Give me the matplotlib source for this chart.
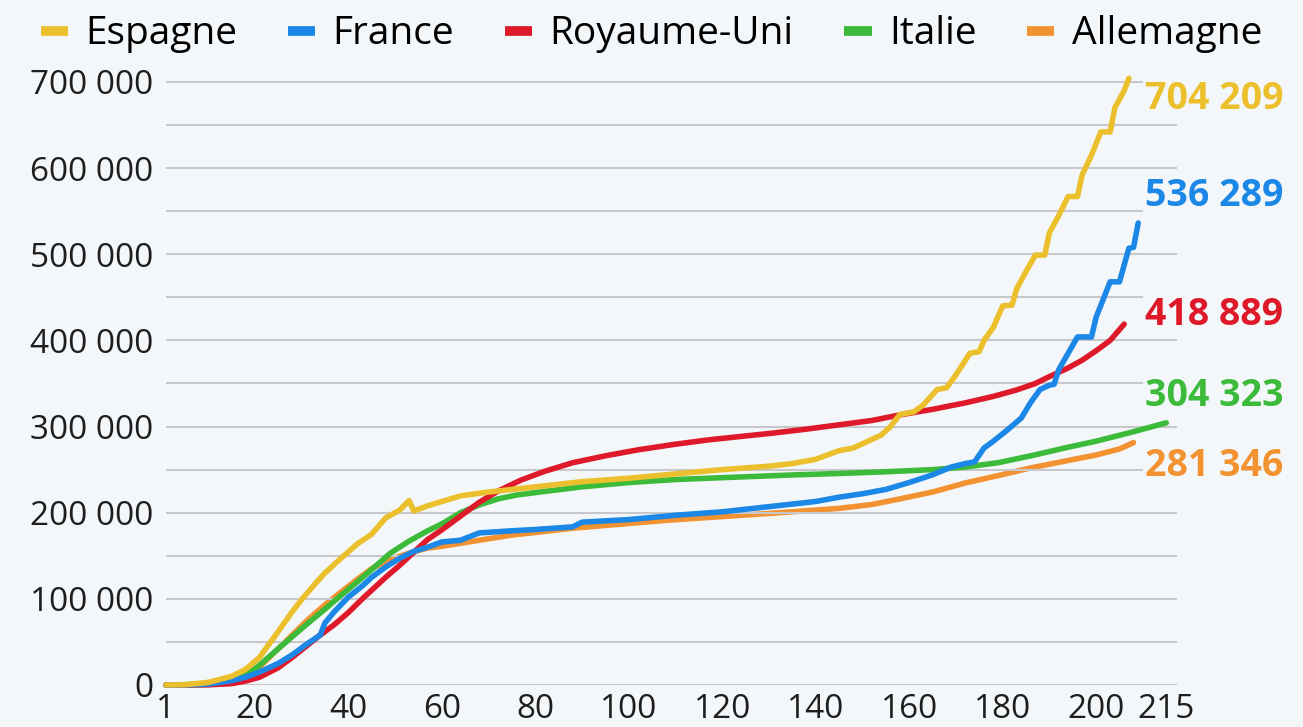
import matplotlib.pyplot as plt
from matplotlib.lines import Line2D

# cumulative cases by day since the first case
spain_days = [1, 5, 10, 15, 18, 21, 25, 28, 30, 33, 35, 38, 42, 45, 48, 51, 53, 54, 57, 60, 64, 70, 75, 80,
              90, 100, 110, 120, 130, 135, 140, 145, 148, 150, 154, 156, 158, 161, 163, 166, 168, 170, 173,
              175, 176, 178, 180, 182, 183, 185, 187, 189, 190, 192, 194, 196, 197, 199, 201, 203, 204, 206, 207]
spain_vals = [0, 300, 3000, 10000, 18000, 32000, 62000, 85000, 99000, 118000, 130000, 145000, 164000,
              175000, 194000, 203000, 214000, 202000, 208000, 213000, 219500, 224000, 227000, 230000,
              236000, 240000, 245000, 250000, 254000, 257000, 262000, 272000, 275000, 280000, 290000,
              300000, 314000, 317000, 325000, 343000, 345000, 360000, 385000, 387000, 400000, 415000,
              440000, 441000, 460000, 480000, 499000, 499000, 525000, 545000, 567000, 567000, 592000,
              615000, 642000, 642000, 670000, 690000, 704209]

france_days = [1, 5, 10, 15, 18, 21, 25, 28, 31, 34, 35, 37, 40, 43, 45, 48, 51, 54, 57, 60, 64, 68, 75, 80,
               88, 90, 100, 110, 120, 130, 140, 145, 150, 155, 160, 165, 169, 172, 174, 176, 178, 181, 184,
               186, 188, 190, 191, 192, 194, 196, 199, 200, 203, 205, 207, 208, 209]
france_vals = [0, 100, 1000, 5000, 9000, 15000, 25000, 35000, 47000, 58000, 72000, 85000, 102000, 115000,
               125000, 137000, 147000, 155000, 160000, 166000, 168000, 176500, 179000, 180500, 183500,
               189000, 192000, 197000, 201000, 207000, 213000, 218000, 222000, 227000, 235000, 244000,
               253000, 257000, 259000, 275000, 283000, 296000, 310000, 328000, 343000, 348000, 349000,
               366000, 385000, 404000, 404000, 427000, 468000, 468000, 507000, 508000, 536289]

uk_days = [1, 10, 15, 18, 21, 25, 28, 31, 34, 37, 40, 43, 45, 48, 51, 54, 57, 60, 64, 68, 72, 77, 82, 88,
           95, 102, 110, 117, 124, 131, 138, 145, 152, 158, 165, 172, 178, 183, 187, 190, 194, 197, 200,
           203, 206]
uk_vals = [0, 200, 1500, 4500, 9000, 20000, 32000, 45000, 58000, 70000, 84000, 100000, 110000, 125000,
           139000, 154000, 169000, 180000, 196000, 212000, 225000, 238000, 248000, 258000, 266000, 273000,
           279500, 284500, 288500, 292500, 297000, 302000, 307000, 313500, 320000, 327500, 335000, 342500,
           350000, 358000, 368000, 377000, 388000, 400000, 418889]

italy_days = [1, 10, 15, 18, 21, 25, 28, 31, 35, 38, 42, 45, 49, 53, 57, 60, 64, 68, 72, 76, 81, 90, 100,
              110, 124, 136, 145, 155, 165, 172, 179, 186, 194, 200, 208, 215]
italy_vals = [0, 800, 4500, 11000, 23000, 42000, 56000, 70000, 88000, 102000, 120000, 134000, 153000,
              167000, 179000, 187000, 200000, 209000, 216000, 220500, 224000, 230000, 235000, 238500,
              241500, 244000, 245500, 247500, 250000, 253000, 258000, 266000, 276000, 283000, 294000, 304323]

germany_days = [1, 10, 15, 18, 21, 25, 28, 31, 35, 38, 42, 45, 49, 53, 57, 60, 64, 68, 75, 80, 88, 100,
                109, 120, 131, 140, 145, 152, 158, 165, 172, 179, 186, 193, 200, 205, 208]
germany_vals = [0, 500, 3000, 9000, 21000, 42000, 58000, 74000, 93000, 106000, 123000, 135000, 146000,
                153000, 159000, 161000, 164500, 168000, 174000, 177000, 182000, 187500, 191500, 195500,
                199500, 203000, 205000, 209500, 216000, 224000, 234500, 243000, 252000, 259500, 267000,
                274000, 281346]

names = ["Espagne", "France", "Royaume-Uni", "Italie", "Allemagne"]
colors = ["#ECC02D", "#1B87E6", "#DE1A2A", "#3CBB3B", "#F29230"]
series = [(spain_days, spain_vals), (france_days, france_vals), (uk_days, uk_vals),
          (italy_days, italy_vals), (germany_days, germany_vals)]
zorders = [5, 4, 3, 2, 1]
# vertical position of the end labels (placed to avoid overlaps)
label_y = [680000, 568000, 430000, 336000, 254000]

x_ticks = [1, 20, 40, 60, 80, 100, 120, 140, 160, 180, 200, 215]
y_ticks = list(range(0, 700001, 100000))

bg = "#F4F7FA"
plt.rcParams['font.family'] = ['Open Sans', 'DejaVu Sans']

fig = plt.figure(figsize=(13.03, 7.27), dpi=100, facecolor=bg)
ax = fig.add_axes([0.1274, 0.0578, 0.7759, 0.865], facecolor=bg)

for (d, v), name, c, z in zip(series, names, colors, zorders):
    ax.plot(d, v, color=c, lw=4.0, zorder=z, solid_capstyle='round', solid_joinstyle='round', clip_on=False)

for (d, v), c, ly in zip(series, colors, label_y):
    ax.text(210.5, ly, f"{v[-1]:,}".replace(",", " "), color=c, fontsize=27, fontweight='bold',
            va='center', ha='left', zorder=6,
            bbox=dict(facecolor=bg, edgecolor='none', pad=2))

ax.set_xlim(1, 217.3)
ax.set_ylim(0, 730000)
ax.set_xticks(x_ticks)
ax.set_yticks(y_ticks)
ax.set_yticklabels([f"{t:,}".replace(",", " ") for t in y_ticks])
ax.set_yticks(range(50000, 700001, 100000), minor=True)
ax.tick_params(axis='both', which='both', length=0, labelsize=24, colors='#1E1E1E')
ax.tick_params(axis='y', pad=9)
ax.tick_params(axis='x', pad=6)
ax.grid(axis='y', which='both', color='#C6C8CB', lw=1.5)
for s in ax.spines.values():
    s.set_visible(False)
ax.axhline(0, color='#505050', lw=2.2, zorder=1.5)

handles = [Line2D([0], [0], color=c, lw=7, solid_capstyle='butt') for c in colors]
fig.legend(handles, names, loc='upper center', bbox_to_anchor=(0.5, 1.027), ncol=5, frameon=False,
           fontsize=28, handlelength=0.7, handletextpad=0.45, columnspacing=1.3)

plt.savefig("out.png", dpi=100, facecolor=bg)
